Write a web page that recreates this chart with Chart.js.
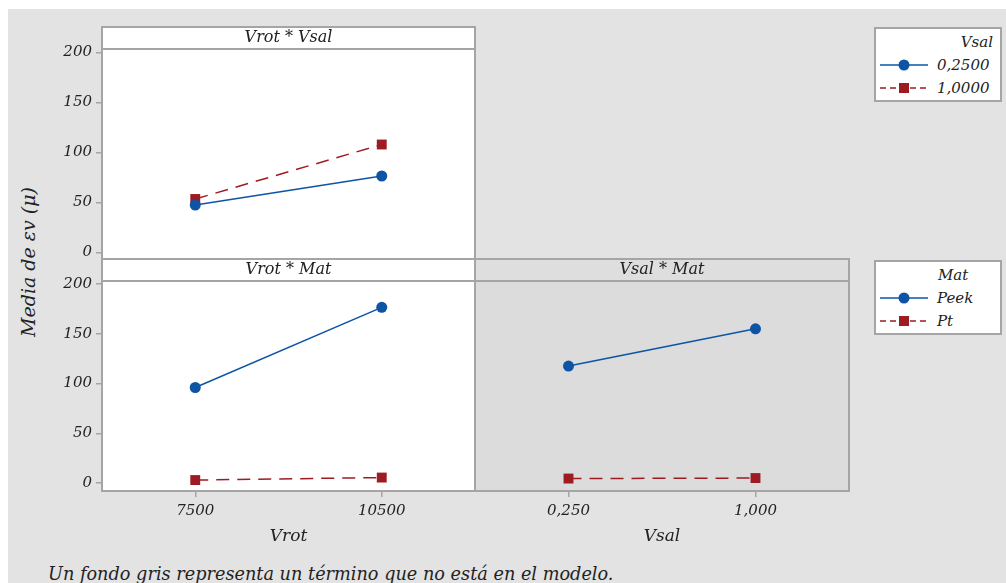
<!DOCTYPE html>
<html lang="es">
<head>
<meta charset="utf-8">
<title>Gráfica de interacción de εv</title>
<script src="https://cdn.jsdelivr.net/npm/chart.js@4/dist/chart.umd.min.js"></script>
<style>
  html, body { margin: 0; padding: 0; background: #ffffff; }
  body { width: 1006px; height: 583px; position: relative; overflow: hidden;
         font-family: "DejaVu Serif", serif; font-style: italic; color: #222; }
  #bg { position: absolute; left: 8px; top: 9px; width: 998px; height: 574px; background: #e3e3e3; }
  .panel { position: absolute; }
  .panel canvas { display: block; }
  #ytitle { position: absolute; left: 28px; top: 262px; transform: translate(-50%, -50%) rotate(-90deg);
            white-space: nowrap; font-size: 19px; }
  #note { position: absolute; left: 48px; top: 564px; white-space: nowrap; font-size: 17.7px; }
  .legend { position: absolute; width: 124px; height: 71px; background: #fff; border: 2px solid #a5a5a5; }
  .legend span { position: absolute; font-size: 15px; line-height: 18px; white-space: nowrap; }
  .legend svg { position: absolute; left: 4px; }
</style>
</head>
<body>
<div id="bg"></div>

<div class="panel" style="left:40px; top:25px;"><canvas id="pVrotVsal" width="439" height="238"></canvas></div>
<div class="panel" style="left:40px; top:257px;"><canvas id="pVrotMat" width="437" height="294"></canvas></div>
<div class="panel" style="left:473px; top:257px;"><canvas id="pVsalMat" width="380" height="294"></canvas></div>

<div id="ytitle">Media de εv (μ)</div>
<div id="legVsal" class="legend" style="left:874px; top:27px;"></div>
<div id="legMat" class="legend" style="left:874px; top:260px;"></div>
<div id="note">Un fondo gris representa un término que no está en el modelo.</div>

<script>
// Factor levels and tick labels
const vrotLabels = ['7500', '10500'];
const vsalLabels = ['0,250', '1,000'];
const vsalLevels = ['0,2500', '1,0000'];
const matLevels = ['Peek', 'Pt'];
const yTicks = [0, 50, 100, 150, 200];

// Fitted means of εv (μ) for each two-factor interaction
const vrotVsal025 = [47.5, 76.5];
const vrotVsal100 = [53.5, 108];
const vrotMatPeek = [96, 176.5];
const vrotMatPt = [3, 5.5];
const vsalMatPeek = [117.5, 155];
const vsalMatPt = [4.5, 5];

const BLUE = '#0d54a5';
const RED = '#9c1c22';
const FRAME = '#a5a5a5';
const FONT = 'DejaVu Serif';
const TEXT = '#222222';

const seriesStyle = [
  { color: BLUE, dash: [], point: 'circle', radius: 5.5 },
  { color: RED, dash: [13, 8], point: 'rect', radius: 7 }
];

function makeDataset(label, values, style) {
  return {
    label: label,
    data: values,
    borderColor: style.color,
    backgroundColor: style.color,
    borderWidth: 1.5,
    borderDash: style.dash,
    pointStyle: style.point,
    pointRadius: style.radius,
    pointBackgroundColor: style.color,
    pointBorderColor: style.color,
    pointBorderWidth: 0,
    tension: 0,
    fill: false
  };
}

// Panel frame: strip background, plot background and the grey borders
const panelFrame = {
  id: 'panelFrame',
  beforeDraw(chart, args, opts) {
    const { ctx, chartArea: a } = chart;
    ctx.save();
    ctx.fillStyle = opts.stripFill;
    ctx.fillRect(a.left, a.top - opts.strip, a.right - a.left, opts.strip);
    ctx.fillStyle = opts.plotFill;
    ctx.fillRect(a.left, a.top, a.right - a.left, a.bottom - a.top);
    ctx.restore();
  },
  afterDraw(chart, args, opts) {
    const { ctx, chartArea: a } = chart;
    ctx.save();
    ctx.strokeStyle = FRAME;
    ctx.lineWidth = 2;
    ctx.strokeRect(a.left, a.top - opts.strip, a.right - a.left, a.bottom - a.top + opts.strip);
    ctx.beginPath();
    ctx.moveTo(a.left, a.top);
    ctx.lineTo(a.right, a.top);
    ctx.stroke();
    ctx.restore();
  }
};

function makePanel(id, cfg) {
  const xScale = {
    type: 'category',
    labels: cfg.xLabels,
    offset: true,
    display: cfg.showX,
    grid: { drawOnChartArea: false, drawTicks: true, tickLength: 6, color: FRAME, lineWidth: 1.5, offset: false },
    border: { display: false },
    ticks: { color: TEXT, padding: 5, font: { family: FONT, style: 'italic', size: 15 }, maxRotation: 0 },
    title: {
      display: cfg.showX,
      text: cfg.xTitle,
      color: TEXT,
      font: { family: FONT, style: 'italic', size: 17, lineHeight: 1.2 },
      padding: { top: 0, bottom: 4 }
    },
    afterFit: s => {
      s.height = cfg.showX ? 60 : 0;
      s.paddingLeft = 0; s.paddingRight = 0;
    }
  };
  const yScale = {
    type: 'linear',
    min: cfg.yMin,
    max: cfg.yMax,
    display: cfg.showY,
    grid: { drawOnChartArea: false, drawTicks: true, tickLength: 6, color: FRAME, lineWidth: 1.5 },
    border: { display: false },
    ticks: { color: TEXT, padding: 4, font: { family: FONT, style: 'italic', size: 15 },
             callback: v => String(v) },
    afterBuildTicks: s => { s.ticks = yTicks.map(v => ({ value: v })); },
    afterFit: s => {
      s.width = cfg.showY ? 62 : 0;
      s.paddingTop = 0; s.paddingBottom = 0;
    }
  };
  return new Chart(document.getElementById(id), {
    type: 'line',
    data: { labels: cfg.xLabels, datasets: cfg.datasets },
    options: {
      responsive: false,
      animation: false,
      events: [],
      layout: { padding: cfg.padding, autoPadding: false },
      scales: { x: xScale, y: yScale },
      plugins: {
        legend: { display: false },
        tooltip: { enabled: false },
        title: {
          display: true,
          text: cfg.strip,
          fullSize: false,
          color: TEXT,
          font: { family: FONT, style: 'italic', size: 16, weight: 'normal', lineHeight: '18px' },
          padding: { top: 2, bottom: 2 }
        },
        panelFrame: { strip: 22, stripFill: cfg.stripFill, plotFill: cfg.plotFill }
      }
    },
    plugins: [panelFrame]
  });
}

makePanel('pVrotVsal', {
  strip: 'Vrot * Vsal', xLabels: vrotLabels, xTitle: 'Vrot',
  showX: false, showY: true, yMin: -6.5, yMax: 203.5,
  padding: { top: 2, left: 0, right: 4, bottom: 4 },
  stripFill: '#ffffff', plotFill: '#ffffff',
  datasets: [
    makeDataset(vsalLevels[0], vrotVsal025, seriesStyle[0]),
    makeDataset(vsalLevels[1], vrotVsal100, seriesStyle[1])
  ]
});

makePanel('pVrotMat', {
  strip: 'Vrot * Mat', xLabels: vrotLabels, xTitle: 'Vrot',
  showX: true, showY: true, yMin: -8, yMax: 203,
  padding: { top: 2, left: 0, right: 2, bottom: 0 },
  stripFill: '#ffffff', plotFill: '#ffffff',
  datasets: [
    makeDataset(matLevels[0], vrotMatPeek, seriesStyle[0]),
    makeDataset(matLevels[1], vrotMatPt, seriesStyle[1])
  ]
});

makePanel('pVsalMat', {
  strip: 'Vsal * Mat', xLabels: vsalLabels, xTitle: 'Vsal',
  showX: true, showY: false, yMin: -8, yMax: 203,
  padding: { top: 2, left: 2, right: 4, bottom: 0 },
  stripFill: '#dedede', plotFill: '#dcdcdc',
  datasets: [
    makeDataset(matLevels[0], vsalMatPeek, seriesStyle[0]),
    makeDataset(matLevels[1], vsalMatPt, seriesStyle[1])
  ]
});

// Legend boxes: a line sample with its marker next to each factor level
function legendSample(style, top) {
  const dash = style.dash.length ? ' stroke-dasharray="6 4"' : '';
  const marker = style.point === 'circle'
    ? `<circle cx="24" cy="7" r="5.5" fill="${style.color}"/>`
    : `<rect x="19" y="2" width="10" height="10" fill="${style.color}"/>`;
  return `<svg style="top:${top}px;" width="48" height="14" viewBox="0 0 48 14">` +
         `<line x1="0" y1="7" x2="48" y2="7" stroke="${style.color}" stroke-width="1.5"${dash}/>` +
         marker + `</svg>`;
}

function buildLegend(id, title, levels, titleAlign) {
  const box = document.getElementById(id);
  let html = titleAlign === 'right'
    ? `<span style="right:7px; top:4px;">${title}</span>`
    : `<span style="left:62px; top:4px;">${title}</span>`;
  levels.forEach((lvl, i) => {
    const cy = 36 + i * 23;
    html += legendSample(seriesStyle[i], cy - 7);
    html += `<span style="left:61px; top:${cy - 9}px;">${lvl}</span>`;
  });
  box.innerHTML = html;
}

buildLegend('legVsal', 'Vsal', vsalLevels, 'right');
buildLegend('legMat', 'Mat', matLevels, 'left');
</script>
</body>
</html>
